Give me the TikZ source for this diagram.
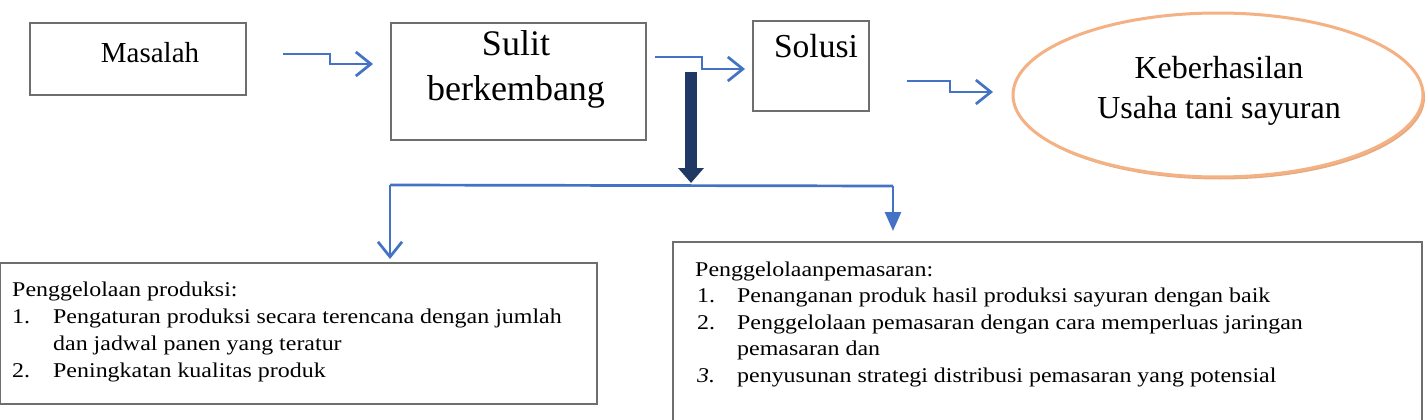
\documentclass[tikz,border=0pt]{standalone}
\usepackage{fontspec}
\setmainfont{Liberation Serif}
\newfontfamily\widefont{Liberation Serif}[FakeStretch=1.14]
\usetikzlibrary{arrows.meta,shapes.geometric}
\definecolor{arrowblue}{RGB}{68,114,196}
\definecolor{navyarrow}{RGB}{31,56,100}
\definecolor{boxgray}{RGB}{110,110,110}
\definecolor{ellorange}{RGB}{244,177,131}
\definecolor{ellshadow}{RGB}{230,170,128}
\tikzset{
  boxst/.style={draw=boxgray, line width=2pt, fill=white, rectangle, inner sep=0pt, anchor=north west},
  flow/.style={draw=arrowblue, line width=2.7pt, -{Straight Barb[length=15pt,width=24pt]}},
  droptri/.style={draw=arrowblue, line width=2.7pt, -{Triangle[length=19pt,width=16pt]}},
  bigdown/.style={draw=navyarrow, line width=12pt, -{Triangle[length=15pt,width=25pt]}},
  lbl/.style={inner sep=0pt, text=black},
}
\begin{document}
\begin{tikzpicture}[x=1pt,y=-1pt]
\useasboundingbox[fill=white] (0,0) rectangle (1427,420);

% boxes
\node[boxst, minimum width=216pt, minimum height=72pt] (masalah) at (29,22) {};
\node[lbl, font=\fontsize{29}{35}\selectfont] (masalahT) at (150,53) {Masalah};

\node[boxst, minimum width=255pt, minimum height=117pt] (sulit) at (390,22) {};
\node[lbl, align=center, font=\fontsize{36}{45}\selectfont] (sulitT) at (516,69) {Sulit\\berkembang};

\node[boxst, minimum width=116pt, minimum height=90pt] (solusi) at (752,20) {};
\node[lbl, font=\fontsize{33.5}{38}\selectfont] (solusiT) at (816,46) {Solusi};

% ellipse
\fill[ellshadow] (1220,97.5) ellipse [x radius=205pt, y radius=82pt];
\node[ellipse, draw=ellorange, fill=white, line width=3pt, minimum width=410pt, minimum height=164pt, inner sep=0pt] (hasil) at (1218,95) {};
\node[lbl, align=center, font=\fontsize{32}{40}\selectfont] (hasilT) at (1219,91) {Keberhasilan\\Usaha tani sayuran};

% bottom boxes
\node[boxst, minimum width=597pt, minimum height=141pt] (prod) at (-1,262) {};
\node[lbl, anchor=north west, align=left, font=\widefont\fontsize{21}{27}\selectfont] (prodT) at (12,281.5) {%
Penggelolaan produksi:\\
\makebox[41pt][l]{1.}Pengaturan produksi secara terencana dengan jumlah\\
\hspace*{41pt}dan jadwal panen yang teratur\\
\makebox[41pt][l]{2.}Peningkatan kualitas produk};

\node[boxst, minimum width=749pt, minimum height=200pt] (pemas) at (672,241) {};
\node[lbl, anchor=north west, align=left, font=\widefont\fontsize{21}{26.5}\selectfont] (pemasT) at (695,261.5) {%
Penggelolaanpemasaran:\\
\hspace*{2pt}\makebox[40pt][l]{1.}Penanganan produk hasil produksi sayuran dengan baik\\
\hspace*{2pt}\makebox[40pt][l]{2.}Penggelolaan pemasaran dengan cara memperluas jaringan\\
\hspace*{42pt}pemasaran dan\\
\hspace*{2pt}\makebox[40pt][l]{\itshape 3.}penyusunan strategi distribusi pemasaran yang potensial};

% connector coordinates
\coordinate (a1s) at (283,54);
\coordinate (a1e) at (373,64);
\coordinate (a2s) at (655,57);
\coordinate (a2e) at (745,69);
\coordinate (a3s) at (907,81);
\coordinate (a3e) at (993,92);
\coordinate (bds) at (691,72);
\coordinate (bde) at (691,183);
\coordinate (brl) at (390,185);
\coordinate (brr) at (893,186);
\coordinate (dl) at (390,259);
\coordinate (dr) at (893,231);

% flow arrows
\draw[flow] (a1s) -- (330,54) -- (330,64) -- (a1e);
\draw[flow] (a2s) -- (702,57) -- (702,69) -- (a2e);
\draw[flow] (a3s) -- (950,81) -- (950,92) -- (a3e);

% branch
\draw[draw=arrowblue, line width=2.7pt, line join=round] (brl) -- (brr);
\draw[flow] (brl) -- (dl);
\draw[droptri] (brr) -- (dr);
\draw[bigdown] (bds) -- (bde);
\end{tikzpicture}
\end{document}
